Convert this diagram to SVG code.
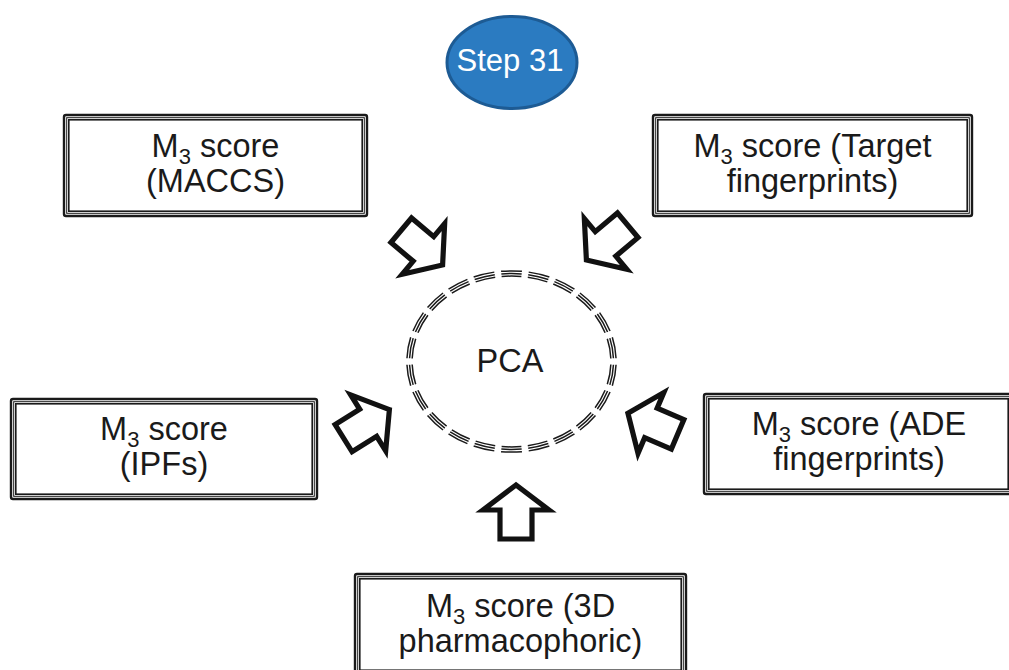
<svg xmlns="http://www.w3.org/2000/svg" xmlns:xlink="http://www.w3.org/1999/xlink" width="1009" height="670" viewBox="0 0 1009 670">
<style>
.b1{fill:#fff;stroke:#1a1a1a;stroke-width:2.4}
.b2{fill:none;stroke:#1a1a1a;stroke-width:1}
.b3{fill:none;stroke:#1a1a1a;stroke-width:1.6}
.t{font-family:"Liberation Sans",Arial,Helvetica,sans-serif;font-size:32.5px;fill:#1a1a1a;text-anchor:middle}
.sub{font-size:22px}
.barrow{fill:#fff;stroke:#111;stroke-width:5.2;stroke-linejoin:miter;stroke-miterlimit:6}
.dash{fill:none;stroke:#1a1a1a;stroke-width:1.5;stroke-dasharray:0.76 0.24;stroke-dashoffset:0.88}
</style>
<defs>
<polygon id="blockArrow" class="barrow" points="0,0 -25,-33 -25,-16 -54,-16 -54,16 -25,16 -25,33"/>
</defs>
<rect width="1009" height="670" fill="#fff"/>

<g id="node-step">
<ellipse cx="512" cy="62.5" rx="65" ry="46" fill="#2b7bc1" stroke="#1d5b94" stroke-width="3"/>
<text class="t" x="510" y="71" style="fill:#fff;font-size:31px">Step 31</text>
</g>

<g id="node-pca">
<ellipse class="dash" cx="511.5" cy="361.5" rx="104.6" ry="90.6" pathLength="22"/>
<ellipse class="dash" cx="511.5" cy="361.5" rx="102" ry="88" pathLength="22"/>
<ellipse class="dash" cx="511.5" cy="361.5" rx="99.4" ry="85.4" pathLength="22"/>
<text class="t" x="510" y="372">PCA</text>
</g>

<g id="node-maccs">
<rect class="b1" x="64" y="115" width="303" height="101" rx="2"/>
<rect class="b2" x="66.7" y="117.7" width="297.6" height="95.6"/>
<rect class="b3" x="68.8" y="119.8" width="293.4" height="91.4"/>
<text class="t" x="215.5" y="157">M<tspan class="sub" dy="7">3</tspan><tspan dy="-7"> score</tspan><tspan x="215.5" dy="35">(MACCS)</tspan></text>
</g>

<g id="node-target">
<rect class="b1" x="653" y="115" width="319" height="101" rx="2"/>
<rect class="b2" x="655.7" y="117.7" width="313.6" height="95.6"/>
<rect class="b3" x="657.8" y="119.8" width="309.4" height="91.4"/>
<text class="t" x="812.5" y="157">M<tspan class="sub" dy="7">3</tspan><tspan dy="-7"> score (Target</tspan><tspan x="812.5" dy="35">fingerprints)</tspan></text>
</g>

<g id="node-ipfs">
<rect class="b1" x="11" y="399" width="306" height="100" rx="2"/>
<rect class="b2" x="13.7" y="401.7" width="300.6" height="94.6"/>
<rect class="b3" x="15.8" y="403.8" width="296.4" height="90.4"/>
<text class="t" x="164" y="440">M<tspan class="sub" dy="7">3</tspan><tspan dy="-7"> score</tspan><tspan x="164" dy="35">(IPFs)</tspan></text>
</g>

<g id="node-ade">
<rect class="b1" x="704" y="394" width="309" height="100" rx="2"/>
<rect class="b2" x="706.7" y="396.7" width="303.6" height="94.6"/>
<rect class="b3" x="708.8" y="398.8" width="299.4" height="90.4"/>
<text class="t" x="859" y="435">M<tspan class="sub" dy="7">3</tspan><tspan dy="-7"> score (ADE</tspan><tspan x="859" dy="35">fingerprints)</tspan></text>
</g>

<g id="node-3d">
<rect class="b1" x="355" y="574" width="331" height="101" rx="2"/>
<rect class="b2" x="357.7" y="576.7" width="325.6" height="95.6"/>
<rect class="b3" x="359.8" y="578.8" width="321.4" height="91.4"/>
<text class="t" x="520.5" y="617">M<tspan class="sub" dy="7">3</tspan><tspan dy="-7"> score (3D</tspan><tspan x="520.5" dy="35">pharmacophoric)</tspan></text>
</g>

<g id="connectors">
<use xlink:href="#blockArrow" transform="translate(442.6,265) rotate(40)"/>
<use xlink:href="#blockArrow" transform="translate(586.4,260) rotate(140)"/>
<use xlink:href="#blockArrow" transform="translate(389.4,409.6) rotate(-32)"/>
<use xlink:href="#blockArrow" transform="translate(627.9,413.2) rotate(203)"/>
<use xlink:href="#blockArrow" transform="translate(516,485) rotate(-90)"/>
</g>
</svg>
